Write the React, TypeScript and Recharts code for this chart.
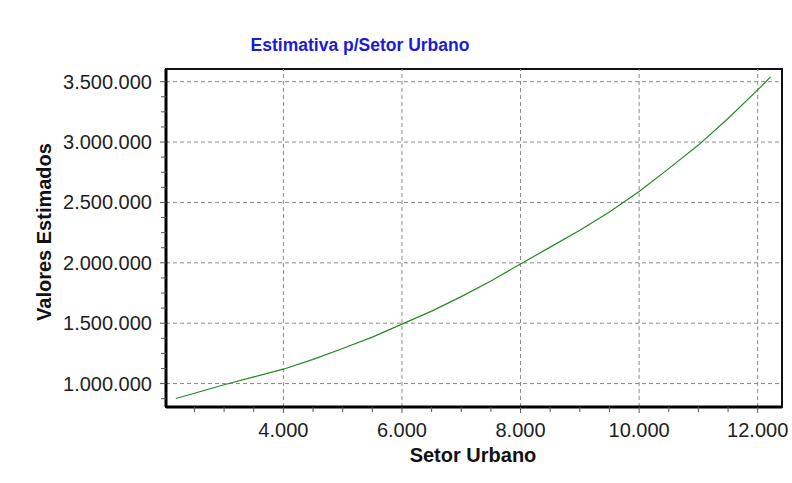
import React from 'react';
import { LineChart, Line, XAxis, YAxis, ReferenceLine, ReferenceArea } from 'recharts';

// Data
const setorUrbano = [2185, 2500, 3000, 3500, 4000, 4500, 5000, 5500, 6000, 6500, 7000, 7500, 8000, 8500, 9000, 9500, 10000, 10500, 11000, 11500, 12000, 12218];
const valoresEstimados = [876000, 920000, 990000, 1055000, 1119000, 1200000, 1290000, 1385000, 1492000, 1600000, 1720000, 1850000, 1990000, 2130000, 2270000, 2420000, 2590000, 2780000, 2975000, 3195000, 3432000, 3540000];

const xMajorTicks = [4000, 6000, 8000, 10000, 12000];
const xAllTicks = [2500, 3000, 3500, 4000, 4500, 5000, 5500, 6000, 6500, 7000, 7500, 8000, 8500, 9000, 9500, 10000, 10500, 11000, 11500, 12000];
const yMajorTicks = [1000000, 1500000, 2000000, 2500000, 3000000, 3500000];
const yAllTicks = [875000, 1000000, 1125000, 1250000, 1375000, 1500000, 1625000, 1750000, 1875000, 2000000, 2125000, 2250000, 2375000, 2500000, 2625000, 2750000, 2875000, 3000000, 3125000, 3250000, 3375000, 3500000];

const xDomain: [number, number] = [2020, 12410];
const yDomain: [number, number] = [806000, 3605000];

const title = 'Estimativa p/Setor Urbano';
const xLabel = 'Setor Urbano';
const yLabel = 'Valores Estimados';

const data = setorUrbano.map((x, i) => ({ x, y: valoresEstimados[i] }));

const fmt = (n: number) => String(n).replace(/\B(?=(\d{3})+(?!\d))/g, '.');

const FONT = 'Arial, "Liberation Sans", sans-serif';

const XTick = (props: any) => {
  const { x, y, payload } = props;
  const major = xMajorTicks.includes(payload.value);
  return (
    <g>
      <line x1={x} x2={x} y1={y} y2={y + (major ? 6 : 5)} stroke="#555" strokeWidth={1} />
      {major && (
        <text x={x} y={y + 30} textAnchor="middle" fontSize={20} fontFamily={FONT} fill="#222">
          {fmt(payload.value)}
        </text>
      )}
    </g>
  );
};

const YTick = (props: any) => {
  const { x, y, payload } = props;
  const major = yMajorTicks.includes(payload.value);
  return (
    <g>
      <line x1={x} x2={x - (major ? 6 : 5)} y1={y} y2={y} stroke="#555" strokeWidth={1} />
      {major && (
        <text x={x - 14} y={y + 7} textAnchor="end" fontSize={20} fontFamily={FONT} fill="#222">
          {fmt(payload.value)}
        </text>
      )}
    </g>
  );
};

export default function App() {
  return (
    <div style={{ position: 'absolute', left: 0, top: 0, width: 792, height: 483, background: '#fff' }}>
      <LineChart width={792} height={483} data={data} margin={{ top: 69, right: 10, bottom: 0, left: 0 }}>
        <XAxis
          dataKey="x"
          type="number"
          domain={xDomain}
          ticks={xAllTicks}
          allowDataOverflow
          height={76}
          tickSize={0}
          tickMargin={0}
          tickLine={false}
          tick={<XTick />}
          axisLine={{ stroke: '#000', strokeWidth: 3 }}
          interval={0}
        />
        <YAxis
          dataKey="y"
          type="number"
          domain={yDomain}
          ticks={yAllTicks}
          allowDataOverflow
          width={166}
          tickSize={0}
          tickMargin={0}
          tickLine={false}
          tick={<YTick />}
          axisLine={{ stroke: '#000', strokeWidth: 3 }}
          interval={0}
        />
        {xMajorTicks.map((v) => (
          <ReferenceLine key={'gx' + v} x={v} stroke="#8a8a8a" strokeDasharray="4 3" strokeWidth={1} />
        ))}
        {yMajorTicks.map((v) => (
          <ReferenceLine key={'gy' + v} y={v} stroke="#8a8a8a" strokeDasharray="4 3" strokeWidth={1} />
        ))}
        <ReferenceArea x1={xDomain[0]} x2={xDomain[1]} y1={yDomain[0]} y2={yDomain[1]} fill="none" stroke="#111" strokeWidth={2} />
        <Line type="linear" dataKey="y" stroke="#238a23" strokeWidth={1.2} dot={false} isAnimationActive={false} />
      </LineChart>
      <svg width={792} height={483} style={{ position: 'absolute', left: 0, top: 0, pointerEvents: 'none' }}>
        <text x={360} y={51} textAnchor="middle" fontSize={17.5} fontWeight="bold" fontFamily={FONT} fill="#1c1cd6">
          {title}
        </text>
        <text x={473} y={462} textAnchor="middle" fontSize={20} fontWeight="bold" fontFamily={FONT} fill="#111">
          {xLabel}
        </text>
        <text x={51} y={232} transform="rotate(-90 51 232)" textAnchor="middle" fontSize={20} fontWeight="bold" fontFamily={FONT} fill="#111">
          {yLabel}
        </text>
      </svg>
    </div>
  );
}
